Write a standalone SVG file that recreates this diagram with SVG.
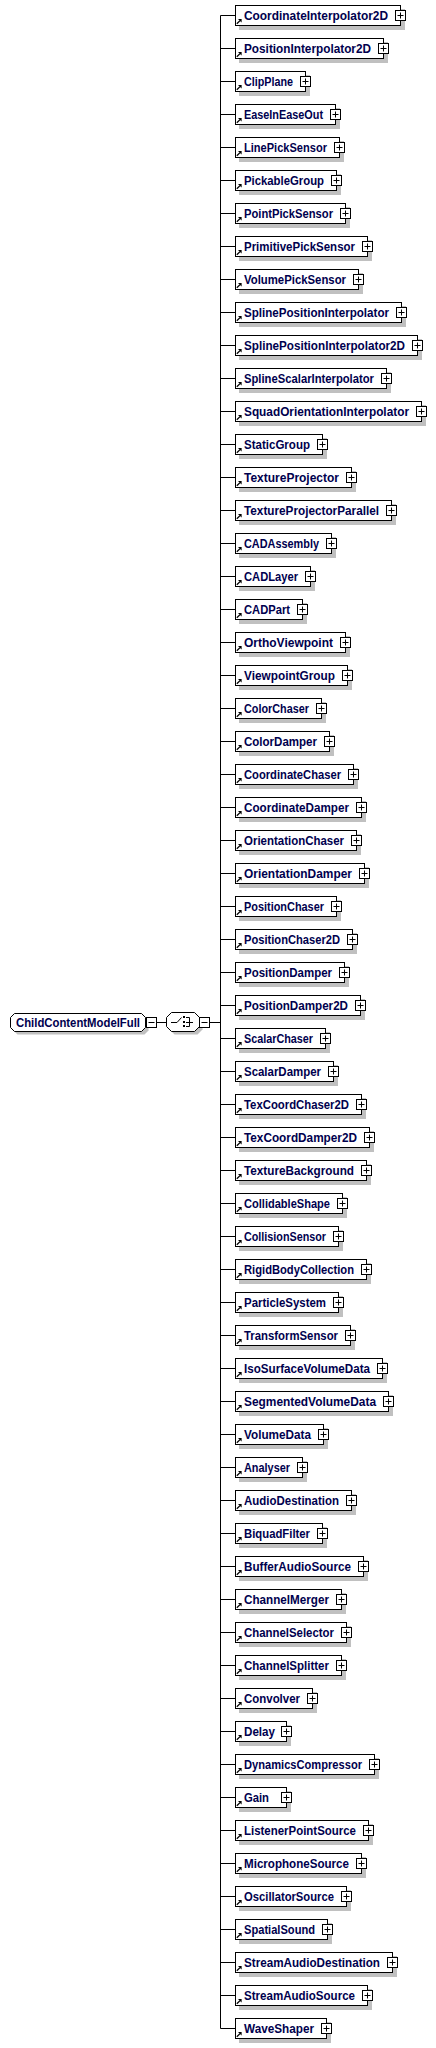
<svg xmlns="http://www.w3.org/2000/svg" xmlns:xlink="http://www.w3.org/1999/xlink" width="436" height="2048" viewBox="0 0 436 2048">
<style>
.bx{fill:#fff;stroke:#000;stroke-width:1}
.sh{fill:#c0c0c0;stroke:none}
text{font-family:"Liberation Sans",Arial,sans-serif;font-weight:bold;font-size:12.6px;fill:#00004e}
.exp{fill:#fff;stroke:#000;stroke-width:1}
.pl{stroke:#000;stroke-width:1;fill:none}
.cn{stroke:#000;stroke-width:1;fill:none}
</style>
<defs>
<g id="arr"><path d="M236.8,23.8 L240,20.6" stroke="#000" stroke-width="1.3" fill="none"/><polygon points="241.6,19 241.6,22.6 238,19" fill="#000"/></g>
<g id="plus"><rect class="exp" x="-5" y="-5" width="10" height="10"/><path class="pl" d="M-3,0H3M0,-3V3"/></g>
<g id="minus"><rect class="exp" x="-5" y="-5" width="10" height="10"/><path class="pl" d="M-3,0H3"/></g>
</defs>
<rect width="436" height="2048" fill="#fff"/>
<g id="connectors">
<path class="cn" d="M156.5,1022.5H166.5M209.5,1022.5H220.5M220.5,15.5V2028.5"/>
<path class="cn" d="M220.5,15.5H235.5M220.5,48.5H235.5M220.5,81.5H235.5M220.5,114.5H235.5M220.5,147.5H235.5M220.5,180.5H235.5M220.5,213.5H235.5M220.5,246.5H235.5M220.5,279.5H235.5M220.5,312.5H235.5M220.5,345.5H235.5M220.5,378.5H235.5M220.5,411.5H235.5M220.5,444.5H235.5M220.5,477.5H235.5M220.5,510.5H235.5M220.5,543.5H235.5M220.5,576.5H235.5M220.5,609.5H235.5M220.5,642.5H235.5M220.5,675.5H235.5M220.5,708.5H235.5M220.5,741.5H235.5M220.5,774.5H235.5M220.5,807.5H235.5M220.5,840.5H235.5M220.5,873.5H235.5M220.5,906.5H235.5M220.5,939.5H235.5M220.5,972.5H235.5M220.5,1005.5H235.5M220.5,1038.5H235.5M220.5,1071.5H235.5M220.5,1104.5H235.5M220.5,1137.5H235.5M220.5,1170.5H235.5M220.5,1203.5H235.5M220.5,1236.5H235.5M220.5,1269.5H235.5M220.5,1302.5H235.5M220.5,1335.5H235.5M220.5,1368.5H235.5M220.5,1401.5H235.5M220.5,1434.5H235.5M220.5,1467.5H235.5M220.5,1500.5H235.5M220.5,1533.5H235.5M220.5,1566.5H235.5M220.5,1599.5H235.5M220.5,1632.5H235.5M220.5,1665.5H235.5M220.5,1698.5H235.5M220.5,1731.5H235.5M220.5,1764.5H235.5M220.5,1797.5H235.5M220.5,1830.5H235.5M220.5,1863.5H235.5M220.5,1896.5H235.5M220.5,1929.5H235.5M220.5,1962.5H235.5M220.5,1995.5H235.5M220.5,2028.5H235.5"/>
</g>
<g id="ChildContentModelFull">
<polygon class="sh" points="17.5,1017.5 144.5,1017.5 148.5,1021.5 148.5,1030.5 144.5,1034.5 17.5,1034.5 13.5,1030.5 13.5,1021.5"/>
<polygon class="bx" points="14.5,1013.5 141.5,1013.5 145.5,1017.5 145.5,1027.5 141.5,1031.5 14.5,1031.5 10.5,1027.5 10.5,1017.5"/>
<text x="16" y="1027" textLength="124" lengthAdjust="spacingAndGlyphs">ChildContentModelFull</text>
<use href="#minus" x="151.5" y="1022.5"/>
</g>
<g id="choice">
<polygon class="sh" points="174.5,1015.5 197.5,1015.5 202.5,1020.5 202.5,1029.5 197.5,1034.5 174.5,1034.5 169.5,1029.5 169.5,1020.5"/>
<polygon class="bx" points="171.5,1012.5 194.5,1012.5 199.5,1017.5 199.5,1026.5 194.5,1031.5 171.5,1031.5 166.5,1026.5 166.5,1017.5"/>
<path class="pl" d="M171,1022.5H177L181.5,1017.5"/>
<rect x="183" y="1016" width="2" height="2" fill="#000"/>
<rect x="183" y="1021" width="2" height="2" fill="#000"/>
<rect x="183" y="1025" width="2" height="2" fill="#000"/>
<path class="pl" d="M186,1017.5H189.5V1026.5H186M186,1022.5H193"/>
<use href="#minus" x="204.5" y="1022.5"/>
</g>
<g id="n0" transform="translate(0,0)"><rect class="sh" x="239" y="9" width="166" height="21"/><rect class="bx" x="235.5" y="5.5" width="165" height="20"/><use href="#arr"/><text x="244" y="20" textLength="144" lengthAdjust="spacingAndGlyphs">CoordinateInterpolator2D</text><use href="#plus" x="400.5" y="15.5"/></g>
<g id="n1" transform="translate(0,33)"><rect class="sh" x="239" y="9" width="149" height="21"/><rect class="bx" x="235.5" y="5.5" width="148" height="20"/><use href="#arr"/><text x="244" y="20" textLength="127" lengthAdjust="spacingAndGlyphs">PositionInterpolator2D</text><use href="#plus" x="383.5" y="15.5"/></g>
<g id="n2" transform="translate(0,66)"><rect class="sh" x="239" y="9" width="71" height="21"/><rect class="bx" x="235.5" y="5.5" width="70" height="20"/><use href="#arr"/><text x="244" y="20" textLength="49" lengthAdjust="spacingAndGlyphs">ClipPlane</text><use href="#plus" x="305.5" y="15.5"/></g>
<g id="n3" transform="translate(0,99)"><rect class="sh" x="239" y="9" width="101" height="21"/><rect class="bx" x="235.5" y="5.5" width="100" height="20"/><use href="#arr"/><text x="244" y="20" textLength="79" lengthAdjust="spacingAndGlyphs">EaseInEaseOut</text><use href="#plus" x="335.5" y="15.5"/></g>
<g id="n4" transform="translate(0,132)"><rect class="sh" x="239" y="9" width="105" height="21"/><rect class="bx" x="235.5" y="5.5" width="104" height="20"/><use href="#arr"/><text x="244" y="20" textLength="83" lengthAdjust="spacingAndGlyphs">LinePickSensor</text><use href="#plus" x="339.5" y="15.5"/></g>
<g id="n5" transform="translate(0,165)"><rect class="sh" x="239" y="9" width="102" height="21"/><rect class="bx" x="235.5" y="5.5" width="101" height="20"/><use href="#arr"/><text x="244" y="20" textLength="80" lengthAdjust="spacingAndGlyphs">PickableGroup</text><use href="#plus" x="336.5" y="15.5"/></g>
<g id="n6" transform="translate(0,198)"><rect class="sh" x="239" y="9" width="111" height="21"/><rect class="bx" x="235.5" y="5.5" width="110" height="20"/><use href="#arr"/><text x="244" y="20" textLength="89" lengthAdjust="spacingAndGlyphs">PointPickSensor</text><use href="#plus" x="345.5" y="15.5"/></g>
<g id="n7" transform="translate(0,231)"><rect class="sh" x="239" y="9" width="133" height="21"/><rect class="bx" x="235.5" y="5.5" width="132" height="20"/><use href="#arr"/><text x="244" y="20" textLength="111" lengthAdjust="spacingAndGlyphs">PrimitivePickSensor</text><use href="#plus" x="367.5" y="15.5"/></g>
<g id="n8" transform="translate(0,264)"><rect class="sh" x="239" y="9" width="124" height="21"/><rect class="bx" x="235.5" y="5.5" width="123" height="20"/><use href="#arr"/><text x="244" y="20" textLength="102" lengthAdjust="spacingAndGlyphs">VolumePickSensor</text><use href="#plus" x="358.5" y="15.5"/></g>
<g id="n9" transform="translate(0,297)"><rect class="sh" x="239" y="9" width="167" height="21"/><rect class="bx" x="235.5" y="5.5" width="166" height="20"/><use href="#arr"/><text x="244" y="20" textLength="145" lengthAdjust="spacingAndGlyphs">SplinePositionInterpolator</text><use href="#plus" x="401.5" y="15.5"/></g>
<g id="n10" transform="translate(0,330)"><rect class="sh" x="239" y="9" width="183" height="21"/><rect class="bx" x="235.5" y="5.5" width="182" height="20"/><use href="#arr"/><text x="244" y="20" textLength="161" lengthAdjust="spacingAndGlyphs">SplinePositionInterpolator2D</text><use href="#plus" x="417.5" y="15.5"/></g>
<g id="n11" transform="translate(0,363)"><rect class="sh" x="239" y="9" width="152" height="21"/><rect class="bx" x="235.5" y="5.5" width="151" height="20"/><use href="#arr"/><text x="244" y="20" textLength="130" lengthAdjust="spacingAndGlyphs">SplineScalarInterpolator</text><use href="#plus" x="386.5" y="15.5"/></g>
<g id="n12" transform="translate(0,396)"><rect class="sh" x="239" y="9" width="187" height="21"/><rect class="bx" x="235.5" y="5.5" width="186" height="20"/><use href="#arr"/><text x="244" y="20" textLength="165" lengthAdjust="spacingAndGlyphs">SquadOrientationInterpolator</text><use href="#plus" x="421.5" y="15.5"/></g>
<g id="n13" transform="translate(0,429)"><rect class="sh" x="239" y="9" width="88" height="21"/><rect class="bx" x="235.5" y="5.5" width="87" height="20"/><use href="#arr"/><text x="244" y="20" textLength="66" lengthAdjust="spacingAndGlyphs">StaticGroup</text><use href="#plus" x="322.5" y="15.5"/></g>
<g id="n14" transform="translate(0,462)"><rect class="sh" x="239" y="9" width="117" height="21"/><rect class="bx" x="235.5" y="5.5" width="116" height="20"/><use href="#arr"/><text x="244" y="20" textLength="95" lengthAdjust="spacingAndGlyphs">TextureProjector</text><use href="#plus" x="351.5" y="15.5"/></g>
<g id="n15" transform="translate(0,495)"><rect class="sh" x="239" y="9" width="157" height="21"/><rect class="bx" x="235.5" y="5.5" width="156" height="20"/><use href="#arr"/><text x="244" y="20" textLength="135" lengthAdjust="spacingAndGlyphs">TextureProjectorParallel</text><use href="#plus" x="391.5" y="15.5"/></g>
<g id="n16" transform="translate(0,528)"><rect class="sh" x="239" y="9" width="97" height="21"/><rect class="bx" x="235.5" y="5.5" width="96" height="20"/><use href="#arr"/><text x="244" y="20" textLength="75" lengthAdjust="spacingAndGlyphs">CADAssembly</text><use href="#plus" x="331.5" y="15.5"/></g>
<g id="n17" transform="translate(0,561)"><rect class="sh" x="239" y="9" width="76" height="21"/><rect class="bx" x="235.5" y="5.5" width="75" height="20"/><use href="#arr"/><text x="244" y="20" textLength="54" lengthAdjust="spacingAndGlyphs">CADLayer</text><use href="#plus" x="310.5" y="15.5"/></g>
<g id="n18" transform="translate(0,594)"><rect class="sh" x="239" y="9" width="68" height="21"/><rect class="bx" x="235.5" y="5.5" width="67" height="20"/><use href="#arr"/><text x="244" y="20" textLength="46" lengthAdjust="spacingAndGlyphs">CADPart</text><use href="#plus" x="302.5" y="15.5"/></g>
<g id="n19" transform="translate(0,627)"><rect class="sh" x="239" y="9" width="111" height="21"/><rect class="bx" x="235.5" y="5.5" width="110" height="20"/><use href="#arr"/><text x="244" y="20" textLength="89" lengthAdjust="spacingAndGlyphs">OrthoViewpoint</text><use href="#plus" x="345.5" y="15.5"/></g>
<g id="n20" transform="translate(0,660)"><rect class="sh" x="239" y="9" width="113" height="21"/><rect class="bx" x="235.5" y="5.5" width="112" height="20"/><use href="#arr"/><text x="244" y="20" textLength="91" lengthAdjust="spacingAndGlyphs">ViewpointGroup</text><use href="#plus" x="347.5" y="15.5"/></g>
<g id="n21" transform="translate(0,693)"><rect class="sh" x="239" y="9" width="87" height="21"/><rect class="bx" x="235.5" y="5.5" width="86" height="20"/><use href="#arr"/><text x="244" y="20" textLength="65" lengthAdjust="spacingAndGlyphs">ColorChaser</text><use href="#plus" x="321.5" y="15.5"/></g>
<g id="n22" transform="translate(0,726)"><rect class="sh" x="239" y="9" width="95" height="21"/><rect class="bx" x="235.5" y="5.5" width="94" height="20"/><use href="#arr"/><text x="244" y="20" textLength="73" lengthAdjust="spacingAndGlyphs">ColorDamper</text><use href="#plus" x="329.5" y="15.5"/></g>
<g id="n23" transform="translate(0,759)"><rect class="sh" x="239" y="9" width="119" height="21"/><rect class="bx" x="235.5" y="5.5" width="118" height="20"/><use href="#arr"/><text x="244" y="20" textLength="97" lengthAdjust="spacingAndGlyphs">CoordinateChaser</text><use href="#plus" x="353.5" y="15.5"/></g>
<g id="n24" transform="translate(0,792)"><rect class="sh" x="239" y="9" width="127" height="21"/><rect class="bx" x="235.5" y="5.5" width="126" height="20"/><use href="#arr"/><text x="244" y="20" textLength="105" lengthAdjust="spacingAndGlyphs">CoordinateDamper</text><use href="#plus" x="361.5" y="15.5"/></g>
<g id="n25" transform="translate(0,825)"><rect class="sh" x="239" y="9" width="122" height="21"/><rect class="bx" x="235.5" y="5.5" width="121" height="20"/><use href="#arr"/><text x="244" y="20" textLength="100" lengthAdjust="spacingAndGlyphs">OrientationChaser</text><use href="#plus" x="356.5" y="15.5"/></g>
<g id="n26" transform="translate(0,858)"><rect class="sh" x="239" y="9" width="130" height="21"/><rect class="bx" x="235.5" y="5.5" width="129" height="20"/><use href="#arr"/><text x="244" y="20" textLength="108" lengthAdjust="spacingAndGlyphs">OrientationDamper</text><use href="#plus" x="364.5" y="15.5"/></g>
<g id="n27" transform="translate(0,891)"><rect class="sh" x="239" y="9" width="102" height="21"/><rect class="bx" x="235.5" y="5.5" width="101" height="20"/><use href="#arr"/><text x="244" y="20" textLength="80" lengthAdjust="spacingAndGlyphs">PositionChaser</text><use href="#plus" x="336.5" y="15.5"/></g>
<g id="n28" transform="translate(0,924)"><rect class="sh" x="239" y="9" width="118" height="21"/><rect class="bx" x="235.5" y="5.5" width="117" height="20"/><use href="#arr"/><text x="244" y="20" textLength="96" lengthAdjust="spacingAndGlyphs">PositionChaser2D</text><use href="#plus" x="352.5" y="15.5"/></g>
<g id="n29" transform="translate(0,957)"><rect class="sh" x="239" y="9" width="110" height="21"/><rect class="bx" x="235.5" y="5.5" width="109" height="20"/><use href="#arr"/><text x="244" y="20" textLength="88" lengthAdjust="spacingAndGlyphs">PositionDamper</text><use href="#plus" x="344.5" y="15.5"/></g>
<g id="n30" transform="translate(0,990)"><rect class="sh" x="239" y="9" width="126" height="21"/><rect class="bx" x="235.5" y="5.5" width="125" height="20"/><use href="#arr"/><text x="244" y="20" textLength="104" lengthAdjust="spacingAndGlyphs">PositionDamper2D</text><use href="#plus" x="360.5" y="15.5"/></g>
<g id="n31" transform="translate(0,1023)"><rect class="sh" x="239" y="9" width="91" height="21"/><rect class="bx" x="235.5" y="5.5" width="90" height="20"/><use href="#arr"/><text x="244" y="20" textLength="69" lengthAdjust="spacingAndGlyphs">ScalarChaser</text><use href="#plus" x="325.5" y="15.5"/></g>
<g id="n32" transform="translate(0,1056)"><rect class="sh" x="239" y="9" width="99" height="21"/><rect class="bx" x="235.5" y="5.5" width="98" height="20"/><use href="#arr"/><text x="244" y="20" textLength="77" lengthAdjust="spacingAndGlyphs">ScalarDamper</text><use href="#plus" x="333.5" y="15.5"/></g>
<g id="n33" transform="translate(0,1089)"><rect class="sh" x="239" y="9" width="127" height="21"/><rect class="bx" x="235.5" y="5.5" width="126" height="20"/><use href="#arr"/><text x="244" y="20" textLength="105" lengthAdjust="spacingAndGlyphs">TexCoordChaser2D</text><use href="#plus" x="361.5" y="15.5"/></g>
<g id="n34" transform="translate(0,1122)"><rect class="sh" x="239" y="9" width="135" height="21"/><rect class="bx" x="235.5" y="5.5" width="134" height="20"/><use href="#arr"/><text x="244" y="20" textLength="113" lengthAdjust="spacingAndGlyphs">TexCoordDamper2D</text><use href="#plus" x="369.5" y="15.5"/></g>
<g id="n35" transform="translate(0,1155)"><rect class="sh" x="239" y="9" width="132" height="21"/><rect class="bx" x="235.5" y="5.5" width="131" height="20"/><use href="#arr"/><text x="244" y="20" textLength="110" lengthAdjust="spacingAndGlyphs">TextureBackground</text><use href="#plus" x="366.5" y="15.5"/></g>
<g id="n36" transform="translate(0,1188)"><rect class="sh" x="239" y="9" width="108" height="21"/><rect class="bx" x="235.5" y="5.5" width="107" height="20"/><use href="#arr"/><text x="244" y="20" textLength="86" lengthAdjust="spacingAndGlyphs">CollidableShape</text><use href="#plus" x="342.5" y="15.5"/></g>
<g id="n37" transform="translate(0,1221)"><rect class="sh" x="239" y="9" width="104" height="21"/><rect class="bx" x="235.5" y="5.5" width="103" height="20"/><use href="#arr"/><text x="244" y="20" textLength="82" lengthAdjust="spacingAndGlyphs">CollisionSensor</text><use href="#plus" x="338.5" y="15.5"/></g>
<g id="n38" transform="translate(0,1254)"><rect class="sh" x="239" y="9" width="132" height="21"/><rect class="bx" x="235.5" y="5.5" width="131" height="20"/><use href="#arr"/><text x="244" y="20" textLength="110" lengthAdjust="spacingAndGlyphs">RigidBodyCollection</text><use href="#plus" x="366.5" y="15.5"/></g>
<g id="n39" transform="translate(0,1287)"><rect class="sh" x="239" y="9" width="104" height="21"/><rect class="bx" x="235.5" y="5.5" width="103" height="20"/><use href="#arr"/><text x="244" y="20" textLength="82" lengthAdjust="spacingAndGlyphs">ParticleSystem</text><use href="#plus" x="338.5" y="15.5"/></g>
<g id="n40" transform="translate(0,1320)"><rect class="sh" x="239" y="9" width="116" height="21"/><rect class="bx" x="235.5" y="5.5" width="115" height="20"/><use href="#arr"/><text x="244" y="20" textLength="94" lengthAdjust="spacingAndGlyphs">TransformSensor</text><use href="#plus" x="350.5" y="15.5"/></g>
<g id="n41" transform="translate(0,1353)"><rect class="sh" x="239" y="9" width="148" height="21"/><rect class="bx" x="235.5" y="5.5" width="147" height="20"/><use href="#arr"/><text x="244" y="20" textLength="126" lengthAdjust="spacingAndGlyphs">IsoSurfaceVolumeData</text><use href="#plus" x="382.5" y="15.5"/></g>
<g id="n42" transform="translate(0,1386)"><rect class="sh" x="239" y="9" width="154" height="21"/><rect class="bx" x="235.5" y="5.5" width="153" height="20"/><use href="#arr"/><text x="244" y="20" textLength="132" lengthAdjust="spacingAndGlyphs">SegmentedVolumeData</text><use href="#plus" x="388.5" y="15.5"/></g>
<g id="n43" transform="translate(0,1419)"><rect class="sh" x="239" y="9" width="89" height="21"/><rect class="bx" x="235.5" y="5.5" width="88" height="20"/><use href="#arr"/><text x="244" y="20" textLength="67" lengthAdjust="spacingAndGlyphs">VolumeData</text><use href="#plus" x="323.5" y="15.5"/></g>
<g id="n44" transform="translate(0,1452)"><rect class="sh" x="239" y="9" width="68" height="21"/><rect class="bx" x="235.5" y="5.5" width="67" height="20"/><use href="#arr"/><text x="244" y="20" textLength="46" lengthAdjust="spacingAndGlyphs">Analyser</text><use href="#plus" x="302.5" y="15.5"/></g>
<g id="n45" transform="translate(0,1485)"><rect class="sh" x="239" y="9" width="117" height="21"/><rect class="bx" x="235.5" y="5.5" width="116" height="20"/><use href="#arr"/><text x="244" y="20" textLength="95" lengthAdjust="spacingAndGlyphs">AudioDestination</text><use href="#plus" x="351.5" y="15.5"/></g>
<g id="n46" transform="translate(0,1518)"><rect class="sh" x="239" y="9" width="88" height="21"/><rect class="bx" x="235.5" y="5.5" width="87" height="20"/><use href="#arr"/><text x="244" y="20" textLength="66" lengthAdjust="spacingAndGlyphs">BiquadFilter</text><use href="#plus" x="322.5" y="15.5"/></g>
<g id="n47" transform="translate(0,1551)"><rect class="sh" x="239" y="9" width="129" height="21"/><rect class="bx" x="235.5" y="5.5" width="128" height="20"/><use href="#arr"/><text x="244" y="20" textLength="107" lengthAdjust="spacingAndGlyphs">BufferAudioSource</text><use href="#plus" x="363.5" y="15.5"/></g>
<g id="n48" transform="translate(0,1584)"><rect class="sh" x="239" y="9" width="107" height="21"/><rect class="bx" x="235.5" y="5.5" width="106" height="20"/><use href="#arr"/><text x="244" y="20" textLength="85" lengthAdjust="spacingAndGlyphs">ChannelMerger</text><use href="#plus" x="341.5" y="15.5"/></g>
<g id="n49" transform="translate(0,1617)"><rect class="sh" x="239" y="9" width="112" height="21"/><rect class="bx" x="235.5" y="5.5" width="111" height="20"/><use href="#arr"/><text x="244" y="20" textLength="90" lengthAdjust="spacingAndGlyphs">ChannelSelector</text><use href="#plus" x="346.5" y="15.5"/></g>
<g id="n50" transform="translate(0,1650)"><rect class="sh" x="239" y="9" width="107" height="21"/><rect class="bx" x="235.5" y="5.5" width="106" height="20"/><use href="#arr"/><text x="244" y="20" textLength="85" lengthAdjust="spacingAndGlyphs">ChannelSplitter</text><use href="#plus" x="341.5" y="15.5"/></g>
<g id="n51" transform="translate(0,1683)"><rect class="sh" x="239" y="9" width="78" height="21"/><rect class="bx" x="235.5" y="5.5" width="77" height="20"/><use href="#arr"/><text x="244" y="20" textLength="56" lengthAdjust="spacingAndGlyphs">Convolver</text><use href="#plus" x="312.5" y="15.5"/></g>
<g id="n52" transform="translate(0,1716)"><rect class="sh" x="239" y="9" width="52" height="21"/><rect class="bx" x="235.5" y="5.5" width="51" height="20"/><use href="#arr"/><text x="244" y="20" textLength="31" lengthAdjust="spacingAndGlyphs">Delay</text><use href="#plus" x="286.5" y="15.5"/></g>
<g id="n53" transform="translate(0,1749)"><rect class="sh" x="239" y="9" width="140" height="21"/><rect class="bx" x="235.5" y="5.5" width="139" height="20"/><use href="#arr"/><text x="244" y="20" textLength="118" lengthAdjust="spacingAndGlyphs">DynamicsCompressor</text><use href="#plus" x="374.5" y="15.5"/></g>
<g id="n54" transform="translate(0,1782)"><rect class="sh" x="239" y="9" width="52" height="21"/><rect class="bx" x="235.5" y="5.5" width="51" height="20"/><use href="#arr"/><text x="244" y="20" textLength="25" lengthAdjust="spacingAndGlyphs">Gain</text><use href="#plus" x="286.5" y="15.5"/></g>
<g id="n55" transform="translate(0,1815)"><rect class="sh" x="239" y="9" width="134" height="21"/><rect class="bx" x="235.5" y="5.5" width="133" height="20"/><use href="#arr"/><text x="244" y="20" textLength="112" lengthAdjust="spacingAndGlyphs">ListenerPointSource</text><use href="#plus" x="368.5" y="15.5"/></g>
<g id="n56" transform="translate(0,1848)"><rect class="sh" x="239" y="9" width="127" height="21"/><rect class="bx" x="235.5" y="5.5" width="126" height="20"/><use href="#arr"/><text x="244" y="20" textLength="105" lengthAdjust="spacingAndGlyphs">MicrophoneSource</text><use href="#plus" x="361.5" y="15.5"/></g>
<g id="n57" transform="translate(0,1881)"><rect class="sh" x="239" y="9" width="112" height="21"/><rect class="bx" x="235.5" y="5.5" width="111" height="20"/><use href="#arr"/><text x="244" y="20" textLength="90" lengthAdjust="spacingAndGlyphs">OscillatorSource</text><use href="#plus" x="346.5" y="15.5"/></g>
<g id="n58" transform="translate(0,1914)"><rect class="sh" x="239" y="9" width="93" height="21"/><rect class="bx" x="235.5" y="5.5" width="92" height="20"/><use href="#arr"/><text x="244" y="20" textLength="71" lengthAdjust="spacingAndGlyphs">SpatialSound</text><use href="#plus" x="327.5" y="15.5"/></g>
<g id="n59" transform="translate(0,1947)"><rect class="sh" x="239" y="9" width="158" height="21"/><rect class="bx" x="235.5" y="5.5" width="157" height="20"/><use href="#arr"/><text x="244" y="20" textLength="136" lengthAdjust="spacingAndGlyphs">StreamAudioDestination</text><use href="#plus" x="392.5" y="15.5"/></g>
<g id="n60" transform="translate(0,1980)"><rect class="sh" x="239" y="9" width="133" height="21"/><rect class="bx" x="235.5" y="5.5" width="132" height="20"/><use href="#arr"/><text x="244" y="20" textLength="111" lengthAdjust="spacingAndGlyphs">StreamAudioSource</text><use href="#plus" x="367.5" y="15.5"/></g>
<g id="n61" transform="translate(0,2013)"><rect class="sh" x="239" y="9" width="92" height="21"/><rect class="bx" x="235.5" y="5.5" width="91" height="20"/><use href="#arr"/><text x="244" y="20" textLength="70" lengthAdjust="spacingAndGlyphs">WaveShaper</text><use href="#plus" x="326.5" y="15.5"/></g>
</svg>
